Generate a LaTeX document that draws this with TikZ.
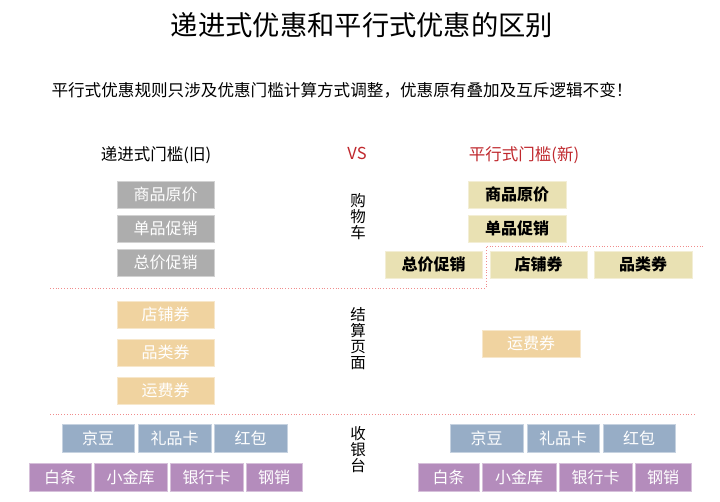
\documentclass[tikz,border=0pt]{standalone}
\usepackage{fontspec}
\setmainfont{Noto Sans CJK SC}
\definecolor{gbox}{HTML}{ADADAD}
\definecolor{kbox}{HTML}{E9E1B3}
\definecolor{obox}{HTML}{F0D3A0}
\definecolor{bbox}{HTML}{97ADC6}
\definecolor{pbox}{HTML}{B48CBC}
\definecolor{hred}{HTML}{C0282D}
\definecolor{dline}{HTML}{F08C8C}
\tikzset{
  cell/.style={draw=#1!55!white, fill=#1, line width=0.8pt, inner sep=0pt, font=\fontsize{16}{16}\selectfont},
  wcell/.style={cell=#1, text=white},
  kcell/.style={cell=kbox, text=black, font=\fontsize{16}{16}\selectfont\bfseries},
  divider/.style={dline, dotted, line width=0.8pt},
  sect/.style={font=\fontsize{15.5}{17}\selectfont, align=center, inner sep=0pt},
  head/.style={font=\fontsize{16.5}{17}\selectfont, inner sep=0pt}
}
\newcommand\pbox[7]{\node[#1, minimum width={#5pt-#3pt}, minimum height={#6pt-#4pt}] (#2) at ({(#3+#5)/2},{-(#4+#6)/2}) {#7};}
\begin{document}
\begin{tikzpicture}[x=1pt,y=1pt]
\useasboundingbox[fill=white] (0,0) rectangle (720,-501);
% title and subtitle
\node[font=\fontsize{27.3}{28}\selectfont, inner sep=0pt] (title) at (362,-25) {递进式优惠和平行式优惠的区别};
\node[font=\fontsize{16.6}{17}\selectfont, inner sep=0pt] (sub) at (342,-90) {平行式优惠规则只涉及优惠门槛计算方式调整，优惠原有叠加及互斥逻辑不变！};
% headings
\node[head] (hold) at (156,-155) {递进式门槛(旧)};
\node[head, text=hred] (vs) at (357,-153) {VS};
\node[head, text=hred] (hnew) at (524,-155) {平行式门槛(新)};
% section labels
\node[sect] (s1) at (358,-217) {购\\[-1pt]物\\[-1pt]车};
\node[sect] (s2) at (358,-339) {结\\[-1pt]算\\[-1pt]页\\[-1pt]面};
\node[sect] (s3) at (358,-450) {收\\[-1pt]银\\[-1pt]台};
% dividers
\coordinate (d1a) at (50,-288);
\coordinate (d1b) at (486,-288);
\coordinate (d1c) at (486,-246);
\coordinate (d1d) at (703,-246);
\draw[divider] (d1a) -- (d1b) -- (d1c) -- (d1d);
\coordinate (d2a) at (50,-414);
\coordinate (d2b) at (695,-414);
\draw[divider] (d2a) -- (d2b);
% left: cart
\pbox{wcell=gbox}{lg1}{117}{181}{214}{208}{商品原价}
\pbox{wcell=gbox}{lg2}{117}{215}{214}{242}{单品促销}
\pbox{wcell=gbox}{lg3}{117}{249}{214}{276}{总价促销}
% left: checkout
\pbox{wcell=obox}{lo1}{117}{301}{214}{328}{店铺券}
\pbox{wcell=obox}{lo2}{117}{339}{214}{366}{品类券}
\pbox{wcell=obox}{lo3}{117}{377}{214}{404}{运费券}
% left: cashier
\pbox{wcell=bbox}{lb1}{62}{424}{134}{452}{京豆}
\pbox{wcell=bbox}{lb2}{138}{424}{211}{452}{礼品卡}
\pbox{wcell=bbox}{lb3}{214}{424}{287}{452}{红包}
\pbox{wcell=pbox}{lp1}{29}{463}{91}{491}{白条}
\pbox{wcell=pbox}{lp2}{94}{463}{167}{491}{小金库}
\pbox{wcell=pbox}{lp3}{170}{463}{243}{491}{银行卡}
\pbox{wcell=pbox}{lp4}{246}{463}{302}{491}{钢销}
% right: cart
\pbox{kcell}{rk1}{468}{181}{566}{208}{商品原价}
\pbox{kcell}{rk2}{468}{215}{566}{242}{单品促销}
\pbox{kcell}{rk3}{385}{251}{482}{278}{总价促销}
\pbox{kcell}{rk4}{490}{251}{587}{278}{店铺券}
\pbox{kcell}{rk5}{594}{251}{692}{278}{品类券}
% right: checkout
\pbox{wcell=obox}{ro1}{482}{330}{580}{357}{运费券}
% right: cashier
\pbox{wcell=bbox}{rb1}{450}{424}{523}{452}{京豆}
\pbox{wcell=bbox}{rb2}{527}{424}{599}{452}{礼品卡}
\pbox{wcell=bbox}{rb3}{603}{424}{675}{452}{红包}
\pbox{wcell=pbox}{rp1}{418}{463}{479}{491}{白条}
\pbox{wcell=pbox}{rp2}{482}{463}{556}{491}{小金库}
\pbox{wcell=pbox}{rp3}{559}{463}{632}{491}{银行卡}
\pbox{wcell=pbox}{rp4}{635}{463}{691}{491}{钢销}
\end{tikzpicture}
\end{document}
